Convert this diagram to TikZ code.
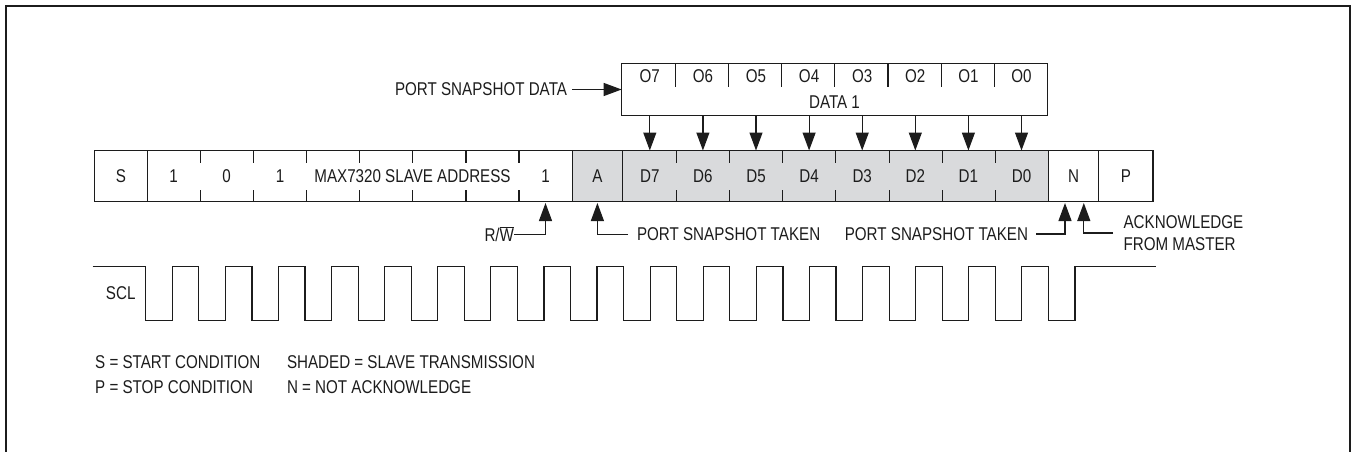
\documentclass[tikz,border=0pt]{standalone}
\usepackage{fontspec}
\setmainfont[FakeStretch=0.82]{Liberation Sans}
\usetikzlibrary{graphs}
\usetikzlibrary{arrows.meta}
\definecolor{shade}{HTML}{D9DADC}
\definecolor{ink}{HTML}{1C1C1C}
\tikzset{
  cell/.style= {draw=ink, line width=1.2pt, outer sep=0, minimum height=51pt, minimum width=#1, inner sep=0},
  cell/.default=53.1pt,
  group/.style= {draw=ink, line width=1.2pt, outer sep=0, minimum height=51pt, minimum width=#1, inner sep=0},
  bit/.style= {outer sep=0, minimum height=51pt, minimum width=53.1pt, inner sep=0},
  shbit/.style= {bit, fill=shade},
  tag/.style= {inner sep=0, outer sep=0, font=\fontsize{18.5}{20}\selectfont, text=ink},
  tick/.style= {draw=ink, line width=1.1pt},
  link/.style= {draw=ink, line width=1.2pt, ->},
}

\begin{document}
\begin{tikzpicture}[x=1pt, y=-1pt, >={Triangle[length=18pt,width=13pt]}, font=\fontsize{18.5}{20}\selectfont, text=ink]
  \useasboundingbox (0,0) rectangle (1351,452);
  \draw [line width=2pt, draw=ink] (5.8,452) -- (5.8,6.5) -- (1349.8,6.5) -- (1349.8,452);

  % frame row
  \node [cell=52.7pt] (s) at (120.9,176) {S} ;
  \node [bit] (b1) at (173.7,176) {1} ;
  \node [bit] (b2) at (226.7,176) {0} ;
  \node [bit] (b3) at (280,176) {1} ;
  \node [bit] (b8) at (545.5,176) {1} ;
  \node [tag] (addrtext) at (412.5,176) {MAX7320 SLAVE ADDRESS} ;
  \node [group=424.9pt] (addr) at (359.7,176) {} ;
  \node [cell=50.6pt, fill=shade] (a) at (597.4,176) {A} ;
  \node [shbit] (d7) at (649.8,176) {D7} ;
  \node [shbit] (d6) at (702.9,176) {D6} ;
  \node [shbit] (d5) at (756,176) {D5} ;
  \node [shbit] (d4) at (809.1,176) {D4} ;
  \node [shbit] (d3) at (862.2,176) {D3} ;
  \node [shbit] (d2) at (915.3,176) {D2} ;
  \node [shbit] (d1) at (968.4,176) {D1} ;
  \node [shbit] (d0) at (1021.5,176) {D0} ;
  \node [group=425.9pt] (dgroup) at (835.7,176) {} ;
  \node [cell=50.2pt] (n) at (1073.7,176) {N} ;
  \node [cell=54.2pt] (p) at (1125.9,176) {P} ;
  \draw [tick] (200.2,151) -- ++(0,12) (253.3,151) -- ++(0,12) (306.8,151) -- ++(0,12)
    (359.9,151) -- ++(0,12) (412.9,151) -- ++(0,12) (466,151) -- ++(0,12) (519,151) -- ++(0,12)
    (676.3,151) -- ++(0,12) (729.4,151) -- ++(0,12) (782.4,151) -- ++(0,12) (835.9,151) -- ++(0,12)
    (889.4,151) -- ++(0,12) (942.5,151) -- ++(0,12) (995.5,151) -- ++(0,12) ;
  \draw [tick] (200.2,190) -- ++(0,11) (253.3,190) -- ++(0,11) (306.8,190) -- ++(0,11)
    (359.9,190) -- ++(0,11) (412.9,190) -- ++(0,11) (466,190) -- ++(0,11) (519,190) -- ++(0,11)
    (676.3,190) -- ++(0,11) (729.4,190) -- ++(0,11) (782.4,190) -- ++(0,11) (835.9,190) -- ++(0,11)
    (889.4,190) -- ++(0,11) (942.5,190) -- ++(0,11) (995.5,190) -- ++(0,11) ;

  % port data box
  \node [group=425.7pt, minimum height=51.6pt] (data) at (834.5,89.5) {} ;
  \node [tag] (o7) at (649.8,76) {O7} ;
  \node [tag] (o6) at (702.9,76) {O6} ;
  \node [tag] (o5) at (756,76) {O5} ;
  \node [tag] (o4) at (809.1,76) {O4} ;
  \node [tag] (o3) at (862.2,76) {O3} ;
  \node [tag] (o2) at (915.3,76) {O2} ;
  \node [tag] (o1) at (968.4,76) {O1} ;
  \node [tag] (o0) at (1021.5,76) {O0} ;
  \node [tag] (data1) at (834.5,102) {DATA 1} ;
  \draw [tick] (675.5,64) -- ++(0,22.7) (728.5,64) -- ++(0,22.7) (781.6,64) -- ++(0,22.7) (834.7,64) -- ++(0,22.7)
    (888,64) -- ++(0,22.7) (941.6,64) -- ++(0,22.7) (994.3,64) -- ++(0,22.7) ;
  \coordinate (s7) at (649.8,115.3) ;
  \coordinate (s6) at (702.9,115.3) ;
  \coordinate (s5) at (756,115.3) ;
  \coordinate (s4) at (809.1,115.3) ;
  \coordinate (s3) at (862.2,115.3) ;
  \coordinate (s2) at (915.3,115.3) ;
  \coordinate (s1) at (968.4,115.3) ;
  \coordinate (s0) at (1021.5,115.3) ;
  \graph [edges={draw=ink, line width=1.2pt}] {
    (s7) -> (d7) ;
    (s6) -> (d6) ;
    (s5) -> (d5) ;
    (s4) -> (d4) ;
    (s3) -> (d3) ;
    (s2) -> (d2) ;
    (s1) -> (d1) ;
    (s0) -> (d0) ;
  } ;

  % labels round the row
  \node [tag, anchor=east, inner xsep=5pt] (pdata) at (572,89.5) {PORT SNAPSHOT DATA} ;
  \draw [link] (pdata.east) -- (data.west) ;
  \node [tag, anchor=east] (rw) at (514,234.5) {R/$\overline{\mbox{W}}$} ;
  \draw [link, shorten >=1.5pt] (rw.east) -| (b8.south) ;
  \node [tag, anchor=west, inner xsep=9pt] (snapa) at (628,234.5) {PORT SNAPSHOT TAKEN} ;
  \draw [link, shorten >=1.5pt] (snapa.west) -| (a.south) ;
  \coordinate (ntipa) at (1065,201.5) ;
  \coordinate (ntipb) at (1083.8,201.5) ;
  \node [tag, anchor=east, inner xsep=8pt] (snapn) at (1036,234) {PORT SNAPSHOT TAKEN} ;
  \draw [link, shorten >=1.5pt] (snapn.east) -| (ntipa) ;
  \node [tag, anchor=west, align=left, inner xsep=10.6pt, font=\fontsize{18.5}{22.3}\selectfont] (ack) at (1113,233) {ACKNOWLEDGE\\FROM MASTER} ;
  \draw [link, shorten >=1.5pt] (ack.west) -| (ntipb) ;

  % clock
  \node [tag] (scl) at (120.7,292.7) {SCL} ;
  \draw [draw=ink, line width=1.2pt] (92.5,266.7) -- (145.7,266.7)
    foreach \i in {1,...,18} { -- ++(0,53.6) -- ++(26.55,0) -- ++(0,-53.6) -- ++(26.55,0) }
    -- (1156,266.7) ;

  % legend
  \node [tag, anchor=west] (lgs) at (95.2,362.3) {S = START CONDITION} ;
  \node [tag, anchor=west] (lgp) at (95.2,387.3) {P = STOP CONDITION} ;
  \node [tag, anchor=west] (lgshade) at (287,362.3) {SHADED = SLAVE TRANSMISSION} ;
  \node [tag, anchor=west] (lgn) at (287,387.3) {N = NOT ACKNOWLEDGE} ;
\end{tikzpicture}
\end{document}
